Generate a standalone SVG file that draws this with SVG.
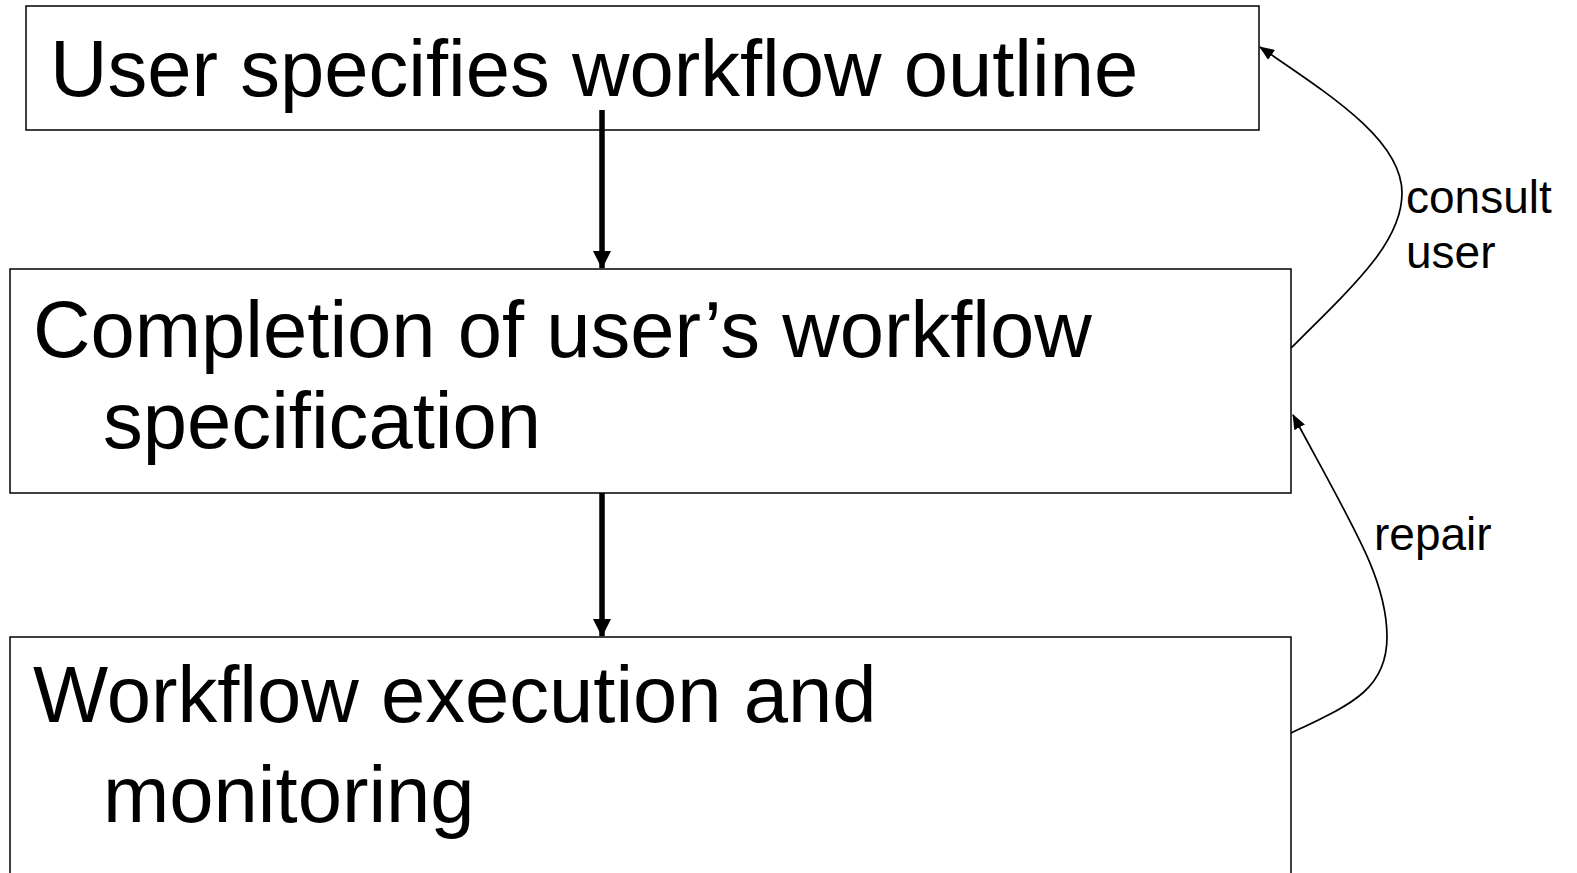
<svg xmlns="http://www.w3.org/2000/svg" width="1577" height="873" viewBox="0 0 1577 873">
<style>
.box{fill:#fff;stroke:#000;stroke-width:1.5}
.big{font-family:"Liberation Sans",Arial,sans-serif;font-size:79.6px;fill:#000}
.lbl{font-family:"Liberation Sans",Arial,sans-serif;font-size:46px;fill:#000}
.thick{stroke:#000;stroke-width:5.5;fill:none}
.thin{stroke:#000;stroke-width:1.7;fill:none}
</style>
<defs>
<marker id="bigArrow" markerUnits="userSpaceOnUse" markerWidth="18" markerHeight="18" viewBox="0 0 18 18" refX="17" refY="9" orient="auto">
<path d="M0,0 L18,9 L0,18 Z" fill="#000"/>
</marker>
<marker id="smallArrow" markerUnits="userSpaceOnUse" markerWidth="15" markerHeight="12" viewBox="0 0 15 12" refX="14" refY="6" orient="auto">
<path d="M0,0 L15,6 L0,12 Z" fill="#000"/>
</marker>
</defs>
<rect width="1577" height="873" fill="#fff"/>
<g id="node-outline">
<rect class="box" x="26" y="6" width="1233" height="124"/>
<text class="big" x="50" y="96">User specifies workflow outline</text>
</g>
<g id="node-completion">
<rect class="box" x="10" y="269" width="1281" height="224"/>
<text class="big" x="33" y="357">Completion of user’s workflow</text>
<text class="big" x="103" y="448">specification</text>
</g>
<g id="node-execution">
<rect class="box" x="10" y="637" width="1281" height="260"/>
<text class="big" x="33" y="722">Workflow execution and</text>
<text class="big" x="103" y="822">monitoring</text>
</g>
<g id="connectors">
<line class="thick" x1="602" y1="110" x2="602" y2="268" marker-end="url(#bigArrow)"/>
<line class="thick" x1="602" y1="493" x2="602" y2="636" marker-end="url(#bigArrow)"/>
<path class="thin" d="M1291,348 C1360,280 1402,240 1402,193 C1402,140 1330,95 1260,47" marker-end="url(#smallArrow)"/>
<path class="thin" d="M1291,733 C1350,705 1387,690 1387,637 C1387,580 1355,530 1293,415" marker-end="url(#smallArrow)"/>
<text class="lbl" x="1406" y="213">consult</text>
<text class="lbl" x="1406" y="268">user</text>
<text class="lbl" x="1374" y="550">repair</text>
</g>
</svg>
